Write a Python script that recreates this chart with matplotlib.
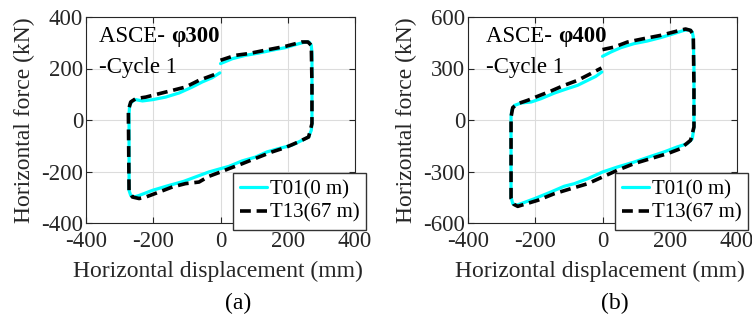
import matplotlib
matplotlib.use("Agg")
import matplotlib.pyplot as plt

plt.rcParams['font.family'] = ['Liberation Serif', 'DejaVu Serif']
plt.rcParams['axes.unicode_minus'] = False

# ---------------- data ----------------
# Panel (a): phi300
a_t01_x = [0, 35, 74, 114, 153, 193, 232, 252, 264, 270, 272, 272, 272, 270, 262, 247, 212, 173, 138,
           104, 64, 25, 0, -35, -74, -109, -153, -202, -242, -257, -267, -272, -272, -272, -270, -262,
           -252, -232, -202, -163, -123, -84, -54, -25, -2]
a_t01_y = [219, 238, 251, 260, 271, 281, 296, 303, 302, 290, 258, 141, -14, -40, -66, -76, -98, -111, -124,
           -144, -159, -180, -189, -202, -221, -238, -254, -273, -293, -299, -293, -273, -118, 25, 57, 74,
           79, 74, 79, 89, 105, 128, 148, 164, 183]
a_t13_x = [0, 44, 84, 133, 193, 242, 260, 270, 272, 272, 262, 232, 193, 153, 114, 64, 25, 0, -35, -64,
           -104, -143, -183, -222, -242, -262, -272, -274, -267, -252, -222, -183, -143, -104, -64, -25, -3]
a_t13_y = [232, 251, 258, 271, 286, 303, 303, 290, 141, -14, -66, -85, -107, -124, -144, -170, -189, -202,
           -219, -241, -247, -260, -280, -299, -305, -299, -273, 38, 70, 83, 89, 102, 115, 128, 154, 173, 184]

# Panel (b): phi400
b_t01_x = [0, 25, 54, 94, 133, 173, 212, 242, 257, 267, 270, 272, 272, 267, 252, 222, 183, 143, 94, 44,
           0, -44, -84, -114, -153, -202, -242, -257, -267, -272, -272, -270, -262, -242, -212, -183, -143,
           -104, -74, -44, -20, -2]
b_t01_y = [371, 396, 421, 445, 460, 480, 503, 522, 526, 513, 483, 309, -41, -109, -138, -157, -186, -212,
           -245, -274, -303, -342, -371, -386, -419, -458, -487, -497, -487, -449, 17, 56, 85, 99, 105, 124,
           157, 183, 202, 231, 254, 280]
b_t13_x = [0, 35, 74, 123, 173, 222, 247, 262, 270, 272, 272, 262, 232, 193, 143, 94, 44, 0, -44, -94,
           -143, -193, -232, -252, -264, -272, -272, -267, -252, -222, -193, -153, -114, -74, -35, -3]
b_t13_y = [410, 425, 454, 474, 493, 518, 530, 522, 493, 200, -41, -118, -167, -196, -225, -254, -293, -332,
           -371, -400, -429, -468, -491, -503, -491, -458, 17, 72, 95, 115, 138, 169, 202, 231, 270, 303]

x_ticks = [-400, -200, 0, 200, 400]
a_y_ticks = [-400, -200, 0, 200, 400]
b_y_ticks = [-600, -300, 0, 300, 600]
series_names = ['T01(0 m)', 'T13(67 m)']
panel_titles = ['\u03c6300', '\u03c6400']
panel_tags = ['(a)', '(b)']

# ---------------- figure ----------------
W, H = 752, 320
fig = plt.figure(figsize=(W / 100, H / 100), dpi=100)

fs = 16.5
fs_lab = 17
fs_leg = 15
gray = '#262626'
axes_px = [(86, 17, 269, 206), (468, 17, 269, 206)]
legend_ur = [(366, 173), (748, 173)]
text_x = [0.05, 0.067]
tag_pos = [(238, 303), (615, 303)]

panels = [
    (a_t01_x, a_t01_y, a_t13_x, a_t13_y, a_y_ticks),
    (b_t01_x, b_t01_y, b_t13_x, b_t13_y, b_y_ticks),
]

for i, (x1, y1, x2, y2, yt) in enumerate(panels):
    l, t, w, h = axes_px[i]
    ax = fig.add_axes([l / W, 1 - (t + h) / H, w / W, h / H])
    ax.plot(x1, y1, color='#00ffff', lw=2.3, label=series_names[0], solid_capstyle='round', zorder=3)
    ax.plot(x2, y2, color='black', lw=2.6, dashes=(3.0, 1.6), label=series_names[1], zorder=4)
    ax.set_xlim(x_ticks[0], x_ticks[-1])
    ax.set_ylim(yt[0], yt[-1])
    ax.set_xticks(x_ticks)
    ax.set_yticks(yt)
    ax.grid(True, color='#dcdcdc', lw=0.8)
    ax.set_axisbelow(True)
    ax.tick_params(direction='in', length=4, width=0.8, labelsize=fs, colors=gray,
                   top=True, right=True)
    ax.tick_params(axis='x', pad=6)
    ax.tick_params(axis='y', pad=2)
    for s in ax.spines.values():
        s.set_color(gray)
        s.set_linewidth(0.8)
    ax.set_xlabel('Horizontal displacement (mm)', fontsize=fs_lab, color=gray)
    ax.set_ylabel('Horizontal force (kN)', fontsize=fs_lab, color=gray)
    ax.xaxis.label.set_va('center')
    ax.yaxis.label.set_va('center')
    ax.xaxis.set_label_coords(0.49, -0.236)
    ax.yaxis.set_label_coords(-0.228, 0.5)

    t1 = ax.text(text_x[i], 0.879, 'ASCE- ', transform=ax.transAxes, fontsize=fs,
                 ha='left', va='baseline', color='black')
    ax.annotate(panel_titles[i], xy=(1, 0), xycoords=t1, fontsize=fs, fontweight='bold',
                ha='left', va='bottom', color='black')
    ax.text(text_x[i], 0.728, '-Cycle 1', transform=ax.transAxes, fontsize=fs,
            ha='left', va='baseline', color='black')

    lx, ly = legend_ur[i]
    leg = ax.legend(loc='upper right', bbox_to_anchor=(lx / W, 1 - ly / H),
                    bbox_transform=fig.transFigure, borderaxespad=0, fontsize=fs_leg,
                    fancybox=False, framealpha=1, edgecolor='#333333',
                    handlelength=1.3, handletextpad=0.12, labelspacing=0.18,
                    borderpad=0.33)
    leg.get_frame().set_linewidth(1.0)
    leg.set_zorder(10)

    fig.text(tag_pos[i][0] / W, 1 - tag_pos[i][1] / H, panel_tags[i], fontsize=fs_lab,
             ha='center', va='center', color='black')

fig.savefig('out.png', dpi=100)
